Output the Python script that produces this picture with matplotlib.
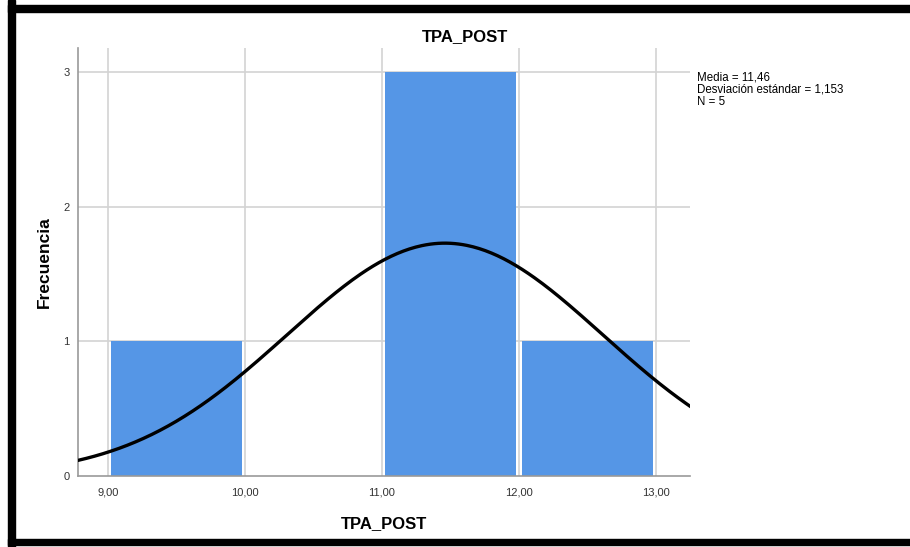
import numpy as np
import matplotlib
matplotlib.use('Agg')
import matplotlib.pyplot as plt
from matplotlib.patches import Rectangle

plt.rcParams['font.family'] = ['Liberation Sans', 'DejaVu Sans']

# histogram data (bin edges, counts)
bin_left = [9.0, 10.0, 11.0, 12.0]
counts = [1, 0, 3, 1]
bin_width = 1.0
media = 11.46
desv = 1.153
n = 5
xticks = [9.0, 10.0, 11.0, 12.0, 13.0]
xlabels = ['9,00', '10,00', '11,00', '12,00', '13,00']
yticks = [0, 1, 2, 3]

fig = plt.figure(figsize=(9.1, 5.47), dpi=100)
ax = fig.add_axes([78/910, 71/547, 612/910, 428/547])

bar_col = '#5596e6'
grid_col = '#d3d3d3'

for t in xticks:
    ax.axvline(t, color=grid_col, lw=1.2, zorder=0)
for t in yticks[1:]:
    ax.axhline(t, color=grid_col, lw=1.2, zorder=0)

centers = [b + bin_width / 2 for b in bin_left]
ax.bar(centers, counts, width=bin_width * 0.955, color=bar_col,
       linewidth=0, zorder=2)

xs = np.linspace(8.78, 13.25, 300)
ys = n * bin_width / (desv * np.sqrt(2 * np.pi)) * np.exp(-0.5 * ((xs - media) / desv) ** 2)
ax.plot(xs, ys, color='black', lw=2.4, zorder=3)

ax.set_xlim(8.78, 13.25)
ax.set_ylim(0, 3.18)
ax.set_xticks(xticks)
ax.set_xticklabels(xlabels)
ax.set_yticks(yticks)
ax.tick_params(axis='x', length=0, labelsize=8, colors='#333333', pad=8)
ax.tick_params(axis='y', length=0, labelsize=8, colors='#333333', pad=6)
for s in ['top', 'right']:
    ax.spines[s].set_visible(False)
for s in ['left', 'bottom']:
    ax.spines[s].set_color('#999999')
    ax.spines[s].set_linewidth(1.2)

ax.set_xlabel('TPA_POST', fontsize=12, fontweight='bold', labelpad=14)
ax.set_ylabel('Frecuencia', fontsize=12.5, fontweight='bold', labelpad=8)
fig.text(465/910, 1 - 37/547, 'TPA_POST', fontsize=12, fontweight='bold',
         ha='center', va='center')

fig.text(697/910, 1 - 71/547,
         'Media = 11,46\nDesviación estándar = 1,153\nN = 5',
         fontsize=8.3, ha='left', va='top', linespacing=1.08)

# black frame around the picture
fig.add_artist(Rectangle((8/910, 0), 7/910, 1, transform=fig.transFigure,
                         color='black', zorder=10))
fig.add_artist(Rectangle((8/910, 1 - 12/547), 1, 7/547, transform=fig.transFigure,
                         color='black', zorder=10))
fig.add_artist(Rectangle((8/910, 2/547), 1, 6/547, transform=fig.transFigure,
                         color='black', zorder=10))

fig.savefig('out.png', dpi=100)
